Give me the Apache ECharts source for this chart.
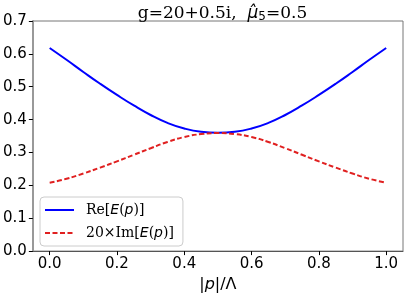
<!DOCTYPE html>
<html>
<head>
<meta charset="utf-8">
<script src="https://cdn.jsdelivr.net/npm/echarts@6/dist/echarts.min.js"></script>
<style>html,body{margin:0;padding:0;background:#fff}#c{width:407px;height:298px}</style>
</head>
<body>
<div id="c"></div>
<script>
const momentum = [0.00,0.05,0.10,0.15,0.20,0.25,0.30,0.35,0.40,0.45,0.50,0.55,0.60,0.65,0.70,0.75,0.80,0.85,0.90,0.95,1.00];
const reEnergy = [0.618,0.582,0.545,0.509,0.475,0.443,0.414,0.390,0.373,0.363,0.360,0.363,0.373,0.390,0.414,0.443,0.475,0.509,0.545,0.582,0.618];
const imEnergy20 = [0.208,0.220,0.236,0.254,0.273,0.293,0.313,0.332,0.347,0.356,0.359,0.356,0.347,0.332,0.313,0.293,0.273,0.254,0.236,0.220,0.208];
const xTicks = [0.0,0.2,0.4,0.6,0.8,1.0];
const seriesNames = ['Re[E(p)]','20×Im[E(p)]'];

const chart = echarts.init(document.getElementById('c'), null, {renderer:'canvas'});
const pairs = vals => momentum.map((p,i)=>[p, vals[i]]);
const serif = 'DejaVu Serif';
const sans = 'DejaVu Sans';

chart.setOption({
  animation:false,
  backgroundColor:'#fff',
  title:{
    text:'{r|g=20+0.5i,  }{m|μ̂}{s|5}{r|=0.5}',
    left:217.5, textAlign:'center', top:0,
    textStyle:{
      fontWeight:'normal',
      rich:{
        r:{fontFamily:serif,fontSize:17,fontWeight:'normal',color:'#000'},
        m:{fontFamily:sans,fontStyle:'italic',fontWeight:'normal',fontSize:17,color:'#000'},
        s:{fontFamily:sans,fontSize:12,fontWeight:'normal',color:'#000',padding:[6,0,0,0]}
      }
    }
  },
  grid:{left:32,right:4,top:21,bottom:45,show:true,borderColor:'#777',borderWidth:1,containLabel:false},
  legend:{
    left:40, top:197, orient:'vertical',
    itemWidth:29, itemHeight:14, itemGap:9,
    padding:[6,9,6,4],
    backgroundColor:'rgba(255,255,255,0.8)',
    borderColor:'#cccccc', borderWidth:1, borderRadius:4,
    itemStyle:{opacity:0},
    data:seriesNames,
    formatter:function(n){
      if(n===seriesNames[0]) return '{r|Re[}{i|E}{r|(}{i|p}{r|)]}';
      return '{r|20×Im[}{i|E}{r|(}{i|p}{r|)]}';
    },
    textStyle:{
      padding:[0,0,0,7],
      rich:{
        r:{fontFamily:serif,fontSize:14,color:'#000'},
        i:{fontFamily:sans,fontStyle:'italic',fontSize:14,color:'#000'}
      }
    }
  },
  xAxis:{
    type:'value', min:-0.05, max:1.05,
    name:'{n||}{i|p}{n||/Λ}', nameLocation:'middle', nameGap:22,
    nameTextStyle:{rich:{
      n:{fontFamily:sans,fontSize:16,color:'#000'},
      i:{fontFamily:sans,fontStyle:'italic',fontSize:16,color:'#000'}
    }},
    splitLine:{show:false},
    axisLine:{show:true,onZero:false,lineStyle:{color:'#555',width:1}},
    axisTick:{show:true,inside:false,length:4,lineStyle:{color:'#000'},customValues:xTicks},
    axisLabel:{customValues:xTicks,formatter:v=>v.toFixed(1),fontFamily:sans,fontSize:15,color:'#000',margin:6}
  },
  yAxis:{
    type:'value', min:0, max:0.7, interval:0.1,
    splitLine:{show:false},
    axisLine:{show:true,onZero:false,lineStyle:{color:'#999',width:2}},
    axisTick:{show:true,length:4,lineStyle:{color:'#000'}},
    axisLabel:{formatter:v=>v.toFixed(1),fontFamily:sans,fontSize:15,color:'#000',margin:6}
  },
  series:[
    {name:seriesNames[0],type:'line',data:pairs(reEnergy),smooth:true,symbol:'none',
     lineStyle:{color:'#0000ff',width:2},itemStyle:{color:'#0000ff'}},
    {name:seriesNames[1],type:'line',data:pairs(imEnergy20),smooth:true,symbol:'none',
     lineStyle:{color:'#e02020',width:2,type:[5,2.5]},itemStyle:{color:'#e02020'}}
  ]
});
</script>
</body>
</html>
